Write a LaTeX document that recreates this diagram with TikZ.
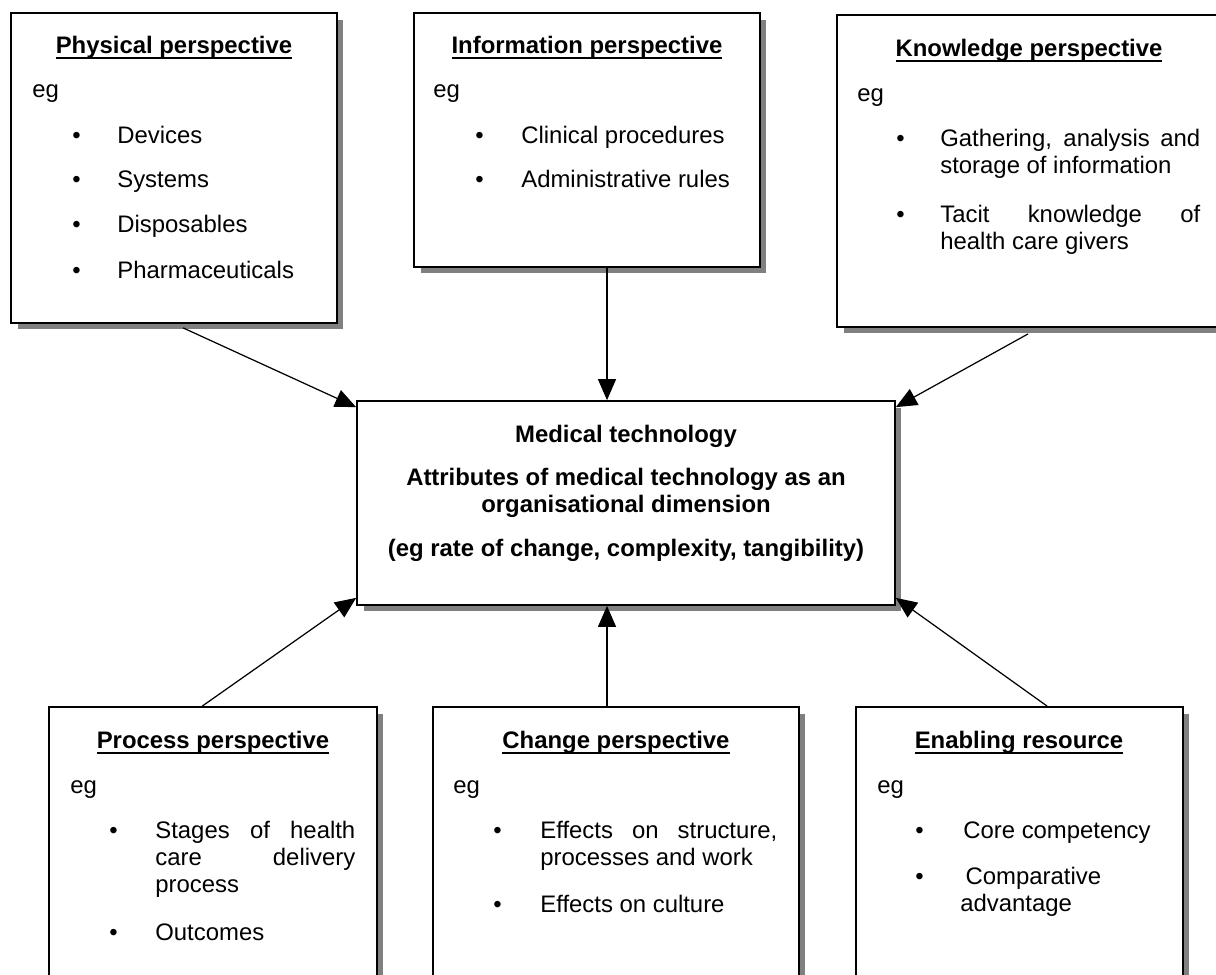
\documentclass[tikz,border=0pt]{standalone}
\usepackage{fontspec}
\setmainfont{Liberation Sans}
\newcommand{\titleul}[1]{\setbox0\hbox{#1}\rlap{\rule[-3.2pt]{\wd0}{1.1pt}}\box0}
\usetikzlibrary{calc}
\usetikzlibrary{positioning,arrows.meta,shadows}
\tolerance=10000
\hyphenpenalty=10000

\begin{document}
\begin{tikzpicture}[x=0.02cm, y=-0.02cm,
  box/.style={draw, line width=1pt, fill=white, inner sep=0pt,
    drop shadow={shadow xshift=0.13cm, shadow yshift=-0.13cm, fill=black!50, opacity=1}},
  head/.style={anchor=base, inner sep=0pt, font=\fontsize{13.6}{15.6}\selectfont\bfseries},
  txt/.style={anchor=base west, inner sep=0pt, font=\fontsize{13.6}{15.6}\selectfont},
  item/.style={txt, text width=#1, align=justify},
  arr/.style={-{Triangle[length=0.42cm, width=0.36cm]}, line width=0.7pt}]
\useasboundingbox (0,0) rectangle (1216,974);
\clip (0,0) rectangle (1216,974);

% boxes
\node[box, minimum width=6.52cm, minimum height=6.2cm] (physical) at (174,168) {};
\node[box, minimum width=6.92cm, minimum height=5.08cm] (information) at (587,140) {};
\node[box, minimum width=8.06cm, minimum height=6.24cm] (knowledge) at (1038.5,171) {};
\node[box, minimum width=10.76cm, minimum height=4.08cm] (medtech) at (626,503) {};
\node[box, minimum width=6.56cm, minimum height=5.86cm] (process) at (213,853.5) {};
\node[box, minimum width=7.32cm, minimum height=5.86cm] (change) at (616,853.5) {};
\node[box, minimum width=6.54cm, minimum height=5.86cm] (enabling) at (1019.5,853.5) {};

% physical perspective
\node[head] (physhead) at (174,53) {\titleul{Physical perspective}};
\node[txt] (physeg) at (32,97) {eg};
\node[txt] (bdev) at (72,143) {\textbullet};
\node[txt] (devices) at (117,143) {Devices};
\node[txt] (bsys) at (72,187) {\textbullet};
\node[txt] (systems) at (117,187) {Systems};
\node[txt] (bdisp) at (72,232) {\textbullet};
\node[txt] (disposables) at (117,232) {Disposables};
\node[txt] (bpharm) at (72,278) {\textbullet};
\node[txt] (pharma) at (117,278) {Pharmaceuticals};

% information perspective
\node[head] (infohead) at (587,53) {\titleul{Information perspective}};
\node[txt] (infoeg) at (433,97) {eg};
\node[txt] (bclin) at (475,143) {\textbullet};
\node[txt] (clinical) at (521,143) {Clinical procedures};
\node[txt] (badmin) at (475,187) {\textbullet};
\node[txt] (admin) at (521,187) {Administrative rules};

% knowledge perspective
\node[head] (knowhead) at (1029,56) {\titleul{Knowledge perspective}};
\node[txt] (knoweg) at (857,101) {eg};
\node[txt] (bgather) at (896,146) {\textbullet};
\node[item=5.2cm] (gathering) at (940,146) {Gathering, analysis and storage of information};
\node[txt] (btacit) at (896,222) {\textbullet};
\node[item=5.2cm] (tacit) at (940,222) {Tacit knowledge of\linebreak health care givers};

% medical technology
\node[head] (medhead) at (626,442) {Medical technology};
\node[head] (attr) at (626,485) {Attributes of medical technology as an};
\node[head] (orgdim) at (626,512) {organisational dimension};
\node[head] (egrate) at (626,556) {(eg rate of change, complexity, tangibility)};

% process perspective
\node[head] (prochead) at (213,748) {\titleul{Process perspective}};
\node[txt] (proceg) at (70,793) {eg};
\node[txt] (bstages) at (109,838) {\textbullet};
\node[item=4cm] (stages) at (155,838) {Stages of health care delivery process};
\node[txt] (bout) at (109,940) {\textbullet};
\node[txt] (outcomes) at (155,940) {Outcomes};

% change perspective
\node[head] (changehead) at (616,748) {\titleul{Change perspective}};
\node[txt] (changeeg) at (453,793) {eg};
\node[txt] (beffstruct) at (493,838) {\textbullet};
\node[item=4.74cm] (effstruct) at (540,838) {Effects on structure, processes and work};
\node[txt] (beffcult) at (493,912) {\textbullet};
\node[txt] (effcult) at (540,912) {Effects on culture};

% enabling resource
\node[head] (enabhead) at (1019,748) {\titleul{Enabling resource}};
\node[txt] (enabeg) at (877,793) {eg};
\node[txt] (bcore) at (915,838) {\textbullet};
\node[txt] (core) at (963,838) {Core competency};
\node[txt] (bcomp) at (915,884) {\textbullet};
\node[txt, text width=4cm, align=left] (comparative) at (960,884) {\hspace{3pt}Comparative\\advantage};

% connectors
\draw[arr] ($(physical.south)+(9,4)$) -- ($(medtech.north west)+(0,7)$);
\draw[arr] ($(information.south)+(20,0)$) -- ($(medtech.north)+(-19,0)$);
\draw[arr] ($(knowledge.south west)+(192,6)$) -- ($(medtech.north east)+(0,7)$);
\draw[arr] ($(process.north west)+(154,0)$) -- ($(medtech.south west)+(0,-8)$);
\draw[arr] ($(change.north)+(-9,0)$) -- ($(medtech.south)+(-19,0)$);
\draw[arr] ($(enabling.north west)+(192,0)$) -- ($(medtech.south east)+(0,-8)$);
\end{tikzpicture}
\end{document}
